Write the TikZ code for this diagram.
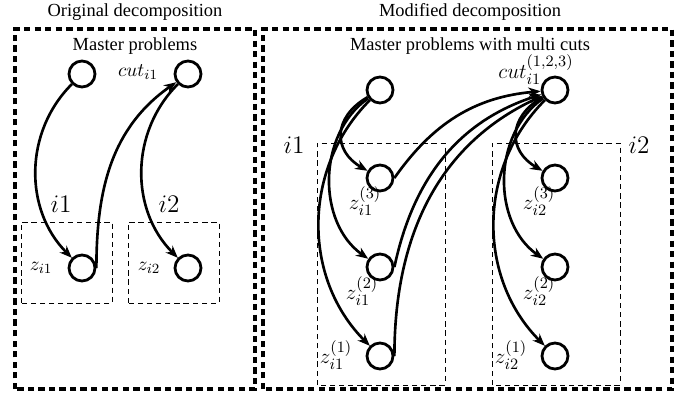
\documentclass[tikz,border=0pt]{standalone}
\usepackage[no-math]{fontspec}
\setmainfont{Liberation Serif}
\usetikzlibrary{arrows.meta}
\tikzset{
  state/.style={circle, draw, line width=1.6pt, minimum size=0.52cm, inner sep=0pt},
  flow/.style={line width=1.5pt, -{Stealth[length=7pt, width=5.5pt]}},
  outerbox/.style={line width=1.8pt, dash pattern=on 3.6pt off 2.4pt},
  subbox/.style={line width=0.5pt, dash pattern=on 3pt off 2.2pt},
  leftmath/.style={font=\fontsize{11}{13}\selectfont, inner sep=0pt},
  rightmath/.style={font=\fontsize{12.5}{15}\selectfont, inner sep=0pt},
  leftset/.style={font=\fontsize{13.5}{16}\selectfont},
  rightset/.style={font=\fontsize{15.5}{18}\selectfont},
}

\begin{document}
\begin{tikzpicture}[font=\fontsize{10.5}{12}\selectfont]
  \useasboundingbox (0,0) rectangle (13.72,7.88);
  % frames
  \draw[outerbox] (0.30,0.10) rectangle (5.10,7.30);
  \draw[outerbox] (5.26,0.10) rectangle (13.44,7.30);
  \draw[subbox] (0.42,1.82) rectangle (2.24,3.44);
  \draw[subbox] (2.56,1.82) rectangle (4.38,3.44);
  \draw[subbox] (6.34,0.18) rectangle (8.90,5.02);
  \draw[subbox] (9.84,0.18) rectangle (12.40,5.02);
  \node (ttlorig) at (2.70,7.64) {Original decomposition};
  \node (ttlmod)  at (9.40,7.64) {Modified decomposition};
  \node[inner sep=0pt] (hdorig) at (2.70,6.96) {Master problems};
  \node[inner sep=0pt] (hdmod)  at (9.40,6.96) {Master problems with multi cuts};

  % original decomposition
  \node[state] (om)  at (1.64,6.40) {};
  \node[state] (oc)  at (3.76,6.40) {};
  \node[state] (oz1) at (1.64,2.52) {};
  \node[state] (oz2) at (3.76,2.52) {};
  \node[leftmath] (lcut) at (2.76,6.44) {$cut_{i1}$};
  \node[leftmath] (lz1)  at (0.82,2.52) {$z_{i1}$};
  \node[leftmath] (lz2)  at (2.98,2.52) {$z_{i2}$};
  \node[leftset] (oi1) at (1.22,3.80) {$i1$};
  \node[leftset] (oi2) at (3.38,3.80) {$i2$};
  \draw[flow] (om) to[bend right=45] (oz1);
  \draw[flow] (oz1.east) to[out=90, in=-145] (oc);
  \draw[flow] (oc) to[bend right=45] (oz2);

  % modified decomposition
  \node[state] (mm) at (7.60,6.08) {};
  \node[state] (mc) at (11.10,6.08) {};
  \foreach \k/\y in {3/4.32, 2/2.54, 1/0.76} {
    \node[state] (a\k) at (7.60,\y) {};
    \node[state] (b\k) at (11.10,\y) {};
  }
  \node[rightmath] (lmcut) at (10.72,6.49) {$cut_{i1}^{(1,2,3)}$};
  \node[rightmath] (la3) at (7.30,3.86) {$z_{i1}^{(3)}$};
  \node[rightmath] (la2) at (7.24,2.06) {$z_{i1}^{(2)}$};
  \node[rightmath] (la1) at (6.72,0.78) {$z_{i1}^{(1)}$};
  \node[rightmath] (lb3) at (10.78,3.86) {$z_{i2}^{(3)}$};
  \node[rightmath] (lb2) at (10.78,2.06) {$z_{i2}^{(2)}$};
  \node[rightmath] (lb1) at (10.22,0.78) {$z_{i2}^{(1)}$};
  \node[rightset] (mi1) at (5.88,4.98) {$i1$};
  \node[rightset] (mi2) at (12.78,4.98) {$i2$};
  \foreach \k/\b/\l in {3/60/1.4, 2/55/1, 1/45/1} {
    \draw[flow] (mm) to[bend right=\b, looseness=\l] (a\k);
    \draw[flow] (mc) to[bend right=\b, looseness=\l] (b\k);
  }
  \draw[flow] (a3.east) to[out=55, in=185] (mc);
  \draw[flow] (a2.east) to[out=78, in=-162] (mc);
  \draw[flow] (a1.east) to[out=90, in=-155] (mc);
\end{tikzpicture}
\end{document}
